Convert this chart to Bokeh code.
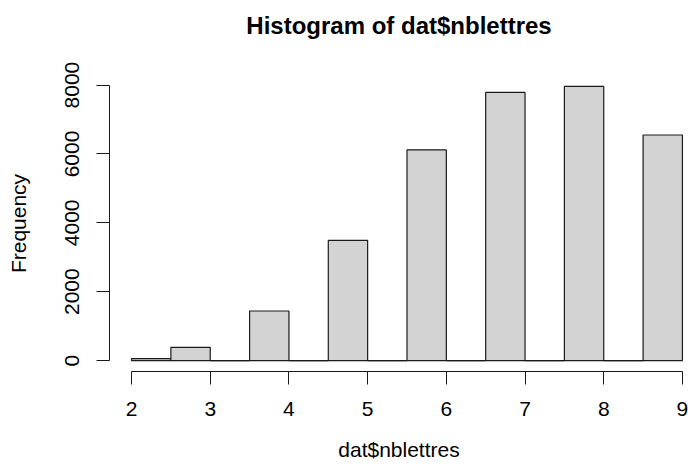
from bokeh.plotting import figure
from bokeh.models import FixedTicker, ColumnDataSource, Range1d, LinearAxis
from bokeh.embed import file_html
from bokeh.resources import INLINE

# ---- data ----
breaks = [2.0, 2.5, 3.0, 3.5, 4.0, 4.5, 5.0, 5.5, 6.0, 6.5, 7.0, 7.5, 8.0, 8.5, 9.0]
counts = [58, 385, 0, 1438, 0, 3487, 0, 6116, 0, 7786, 0, 7960, 0, 6551]
x_ticks = [2, 3, 4, 5, 6, 7, 8, 9]
y_ticks = [0, 2000, 4000, 6000, 8000]
title_text = "Histogram of dat$nblettres"
x_label = "dat$nblettres"
y_label = "Frequency"

FONT = "Liberation Sans"

lefts = breaks[:-1]
rights = breaks[1:]
src = ColumnDataSource(dict(left=lefts, right=rights, top=counts,
                            bottom=[0] * len(counts)))
# empty bins are drawn by R as flat rectangles (a line on the baseline)
zero_src = ColumnDataSource(dict(
    x0=[l for l, c in zip(lefts, counts) if c == 0],
    x1=[r for r, c in zip(rights, counts) if c == 0],
    y=[0 for c in counts if c == 0],
))

ymax = max(counts)
ypad = 0.04 * ymax
xspan = breaks[-1] - breaks[0]
x_mid = (breaks[0] + breaks[-1]) / 2

p = figure(
    width=688, height=470,
    output_backend="svg", toolbar_location=None,
    x_range=Range1d(breaks[0] - 0.04 * xspan, 9.077),
    y_range=Range1d(-ypad, ymax + ypad),
    min_border_left=109, min_border_right=0,
    min_border_top=75, min_border_bottom=99,
    title=title_text,
)

xa = p.below[0]
ya = p.left[0]

p.quad(left="left", right="right", top="top", bottom="bottom", source=src,
       fill_color="#D3D3D3", line_color="#1a1a1a", line_width=1.2)
p.segment(x0="x0", x1="x1", y0="y", y1="y", source=zero_src,
          line_color="#1a1a1a", line_width=1.2)

p.outline_line_color = None
p.grid.visible = False
p.background_fill_color = "white"
p.border_fill_color = "white"

# blank spacer panel between the frame and the title (R's title sits high)
spacer = LinearAxis(ticker=FixedTicker(ticks=[x_mid]),
                    major_label_overrides={x_mid: ""},
                    axis_line_color=None,
                    major_tick_line_color="white", minor_tick_line_color=None,
                    major_tick_out=37, major_tick_in=0, minor_tick_out=0,
                    major_label_standoff=0, major_label_text_font_size="1px")
p.add_layout(spacer, "above")

# title
p.title.text_font = FONT
p.title.text_font_size = "24px"
p.title.text_font_style = "bold"
p.title.text_color = "black"
p.title.align = "center"
p.title.standoff = 0

# x axis
xa.ticker = FixedTicker(ticks=x_ticks)
xa.bounds = (x_ticks[0], x_ticks[-1])
xa.minor_tick_line_color = None
xa.major_tick_in = 0
xa.major_tick_out = 13
xa.major_label_standoff = 17
xa.major_label_text_font = FONT
xa.major_label_text_font_size = "21px"
xa.major_label_text_color = "black"
xa.axis_label = x_label
xa.axis_label_standoff = 19
xa.axis_label_text_font = FONT
xa.axis_label_text_font_size = "21px"
xa.axis_label_text_font_style = "normal"
xa.axis_label_text_color = "black"
xa.axis_line_color = "#1a1a1a"
xa.major_tick_line_color = "#1a1a1a"

# y axis
ya.ticker = FixedTicker(ticks=y_ticks)
ya.bounds = (y_ticks[0], y_ticks[-1])
ya.minor_tick_line_color = None
ya.major_tick_in = 0
ya.major_tick_out = 13
ya.major_label_orientation = "vertical"
ya.major_label_standoff = 17
ya.major_label_text_font = FONT
ya.major_label_text_font_size = "21px"
ya.major_label_text_color = "black"
ya.axis_label = y_label
ya.axis_label_standoff = 33
ya.axis_label_text_font = FONT
ya.axis_label_text_font_size = "21px"
ya.axis_label_text_font_style = "normal"
ya.axis_label_text_color = "black"
ya.axis_line_color = "#1a1a1a"
ya.major_tick_line_color = "#1a1a1a"

open("out.html", "w").write(file_html(p, INLINE))
